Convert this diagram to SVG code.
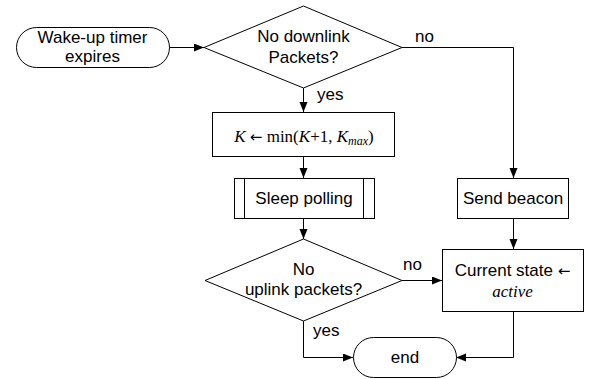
<svg xmlns="http://www.w3.org/2000/svg" width="589" height="379" viewBox="0 0 589 379">
<style>
.s{fill:#fff;stroke:#000;stroke-width:1}
.c{fill:none;stroke:#000;stroke-width:1}
.t{font-family:"Liberation Sans",Arial,sans-serif;font-size:17px;fill:#000;text-anchor:middle}
.l{font-family:"Liberation Sans",Arial,sans-serif;font-size:17px;fill:#000}
.m{font-family:"Liberation Serif","Times New Roman",serif;font-size:17px;fill:#000;text-anchor:middle}
.ar{font-family:"DejaVu Sans",sans-serif;font-style:normal}
</style>
<defs>
<marker id="a" markerWidth="11" markerHeight="9" refX="10" refY="4" orient="auto" markerUnits="userSpaceOnUse">
<path d="M0,0 L10,4 L0,8 z" fill="#000"/>
</marker>
</defs>
<g id="connectors">
<path class="c" d="M169,47.5 H204" marker-end="url(#a)"/>
<path class="c" d="M303.5,88 V112" marker-end="url(#a)"/>
<path class="c" d="M303.5,156 V178" marker-end="url(#a)"/>
<path class="c" d="M303.5,218 V239" marker-end="url(#a)"/>
<path class="c" d="M402,47.5 H513.5 V178" marker-end="url(#a)"/>
<path class="c" d="M513.5,218 V249" marker-end="url(#a)"/>
<path class="c" d="M402,280.5 H442" marker-end="url(#a)"/>
<path class="c" d="M513.5,311 V357.5 H456" marker-end="url(#a)"/>
<path class="c" d="M303.5,321 V357.5 H353" marker-end="url(#a)"/>
<text class="l" x="415" y="42">no</text>
<text class="l" x="317" y="100">yes</text>
<text class="l" x="403" y="270">no</text>
<text class="l" x="313" y="336">yes</text>
</g>
<g id="start">
<rect class="s" x="16.5" y="27.5" width="153" height="40" rx="20" ry="20"/>
<text class="t" x="92.5" y="43">Wake-up timer</text>
<text class="t" x="92.5" y="62">expires</text>
</g>
<g id="decision1">
<polygon class="s" points="204,47.5 303.5,6 402,47.5 303.5,88"/>
<text class="t" x="303.5" y="42">No downlink</text>
<text class="t" x="303.5" y="63">Packets?</text>
</g>
<g id="update-k">
<rect class="s" x="212.5" y="112.5" width="182" height="44"/>
<text class="m" x="304" y="142"><tspan font-style="italic">K</tspan> <tspan class="ar" font-size="15">←</tspan> min(<tspan font-style="italic">K</tspan>+1, <tspan font-style="italic">K</tspan><tspan font-style="italic" font-size="12" dy="3">max</tspan><tspan dy="-3">)</tspan></text>
</g>
<g id="sleep-polling">
<rect class="s" x="234.5" y="178.5" width="140" height="40"/>
<path class="c" d="M244.5,178.5 V218.5 M363.5,178.5 V218.5"/>
<text class="t" x="304" y="204">Sleep polling</text>
</g>
<g id="decision2">
<polygon class="s" points="205,280.5 303.5,239 402,280.5 303.5,321"/>
<text class="t" x="303.5" y="275">No</text>
<text class="t" x="303.5" y="295">uplink packets?</text>
</g>
<g id="send-beacon">
<rect class="s" x="457.5" y="178.5" width="111" height="40"/>
<text class="t" x="513" y="204">Send beacon</text>
</g>
<g id="current-state">
<rect class="s" x="442.5" y="249.5" width="141" height="62"/>
<text class="t" x="512.5" y="276">Current state <tspan class="ar" font-size="15">←</tspan></text>
<text class="m" x="512.5" y="297" font-style="italic">active</text>
</g>
<g id="end">
<rect class="s" x="353.5" y="337.5" width="103" height="40" rx="20" ry="20"/>
<text class="t" x="405" y="363">end</text>
</g>
</svg>
